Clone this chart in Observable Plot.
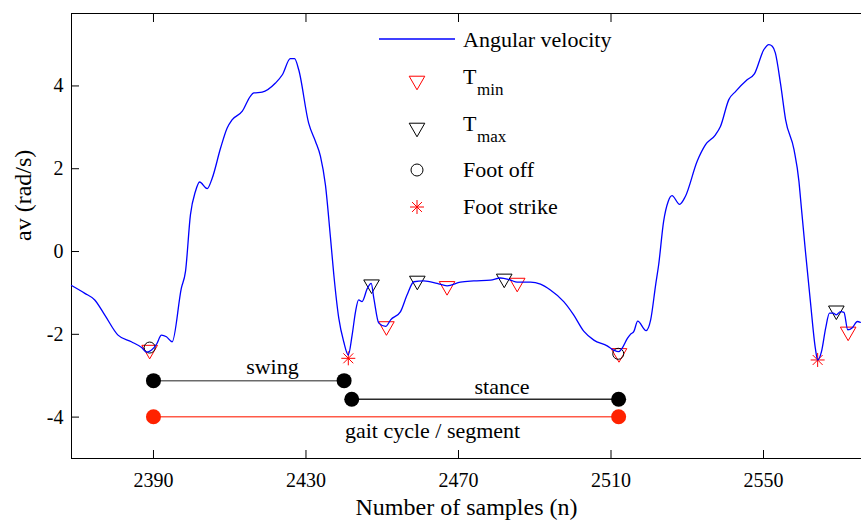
<!DOCTYPE html>
<html><head><meta charset="utf-8">
<script src="https://cdn.jsdelivr.net/npm/d3@7"></script>
<script src="https://cdn.jsdelivr.net/npm/@observablehq/plot@0.6"></script>
<style>
body{margin:0;background:#fff}
#chart{width:861px;height:520px}
#chart svg, #chart svg text{font-family:"Liberation Serif","Times New Roman",Times,"DejaVu Serif","Noto Serif",serif !important}
</style>
</head><body><div id="chart"></div>
<script>
// Angular velocity trace (sample number, rad/s)
const sampleN = [2368.5,2372.0,2374.6,2377.2,2380.7,2384.2,2386.9,2388.2,2389.5,2390.8,2392.1,2393.4,2394.9,2397.3,2398.4,2399.7,2401.0,2402.1,2404.1,2405.4,2407.6,2409.3,2410.6,2413.3,2415.4,2416.3,2418.5,2422.0,2423.8,2425.9,2427.0,2428.1,2430.7,2432.5,2433.8,2435.1,2436.4,2437.3,2438.6,2439.9,2441.1,2442.1,2443.0,2443.8,2444.7,2446.1,2447.1,2447.8,2449.1,2450.9,2452.2,2454.8,2456.5,2458.3,2460.9,2464.4,2467.0,2470.5,2474.0,2478.4,2481.0,2483.6,2485.4,2488.9,2491.5,2494.1,2497.6,2500.2,2502.9,2505.5,2509.0,2510.7,2512.0,2512.9,2514.3,2515.1,2516.0,2517.0,2519.2,2520.4,2521.7,2522.5,2523.8,2525.0,2526.0,2528.0,2529.5,2532.6,2534.8,2537.4,2538.7,2540.9,2542.7,2545.7,2547.6,2550.1,2551.4,2552.3,2553.1,2554.5,2555.8,2558.0,2559.3,2559.7,2561.0,2562.3,2563.6,2564.2,2565.2,2566.3,2567.3,2568.3,2569.1,2570.2,2571.1,2572.1,2573.3,2574.6,2575.4];
const angVel = [-0.82,-1.01,-1.17,-1.53,-2.02,-2.18,-2.32,-2.43,-2.38,-2.24,-2.02,-2.06,-2.18,-0.89,-0.48,0.89,1.45,1.68,1.52,1.77,2.50,2.98,3.18,3.39,3.75,3.83,3.85,4.07,4.27,4.66,4.66,4.39,3.10,2.66,2.30,1.61,0.36,-0.56,-1.61,-2.18,-2.50,-2.02,-1.45,-1.17,-1.21,-0.89,-0.77,-1.13,-1.73,-1.81,-1.65,-1.45,-1.05,-0.73,-0.71,-0.77,-0.83,-0.74,-0.71,-0.69,-0.64,-0.69,-0.74,-0.74,-0.79,-0.93,-1.21,-1.53,-1.93,-2.14,-2.28,-2.38,-2.42,-2.34,-2.10,-2.00,-1.93,-1.68,-1.91,-1.65,-0.81,-0.32,0.73,1.21,1.35,1.14,1.33,2.18,2.58,2.82,3.02,3.67,3.87,4.15,4.29,4.88,5.00,4.96,4.80,4.03,3.18,2.46,1.69,1.29,0.00,-1.21,-2.34,-2.62,-2.42,-1.85,-1.49,-1.49,-1.53,-1.45,-1.47,-1.89,-1.84,-1.69,-1.71];

// Detected events
const tminN = [2389.0,2451.1,2467.0,2485.4,2512.1,2572.2];
const tminV = [-2.43,-1.86,-0.89,-0.81,-2.51,-1.99];
const tmaxN = [2447.2,2459.2,2482.0,2569.1];
const tmaxV = [-0.85,-0.76,-0.71,-1.48];
const footOffN = [2389.0,2511.9];
const footOffV = [-2.32,-2.47];
const footStrikeN = [2441.1,2564.2];
const footStrikeV = [-2.58,-2.62];

// Phase annotations
const segLabel = ["swing","stance","gait cycle / segment"];
const segStart = [2390,2442,2390];
const segEnd = [2440,2512,2512];
const segY = [-3.12,-3.57,-3.99];
const segLabelN = [2421.2,2481.4,2463.2];
const segLabelV = [-2.80,-3.26,-4.33];
const segLine = ["#6a6a6a","#2a2a2a","#ff5a48"];
const segDot = ["#000000","#000000","#ff2200"];

// Axes
const xDomain = [2368.5,2575.7];
const yDomain = [-5,5.75];
const xTicks = [2390,2430,2470,2510,2550];
const yTicks = [-4,-2,0,2,4];

const triDown = {draw(ctx,size){const r=Math.sqrt(size/Math.PI),h=r*0.87;ctx.moveTo(-r,-h);ctx.lineTo(r,-h);ctx.lineTo(0,h);ctx.closePath();}};
const star = {draw(ctx,size){const r=Math.sqrt(size/Math.PI),d=r*0.707;ctx.moveTo(0,-r);ctx.lineTo(0,r);ctx.moveTo(-r,0);ctx.lineTo(r,0);ctx.moveTo(-d,-d);ctx.lineTo(d,d);ctx.moveTo(-d,d);ctx.lineTo(d,-d);}};

const idx = a => a.map((_, i) => i);
const FONT = "Liberation Serif, Times New Roman, Times, DejaVu Serif, serif";
const plain = d => String(d);

const svg = Plot.plot({
  width: 861, height: 520,
  marginLeft: 71, marginRight: 0, marginTop: 13, marginBottom: 62,
  style: {fontFamily: FONT, fontSize: "20px", background: "#fff", color: "#000", overflow: "visible"},
  x: {domain: xDomain},
  y: {domain: yDomain},
  marks: [
    Plot.ruleX([xDomain[0]], {stroke: "#000"}),
    Plot.ruleY(yDomain, {stroke: "#000"}),
    Plot.axisX({ticks: xTicks, tickSize: -8, tickPadding: 22, fontSize: 20, tickFormat: plain, label: null, fontFamily: FONT}),
    Plot.axisX({anchor: "top", ticks: xTicks, tickSize: -8, tickFormat: () => "", label: null}),
    Plot.axisY({ticks: yTicks, tickSize: -8, tickPadding: 16, fontSize: 20, tickFormat: plain, label: null, fontFamily: FONT}),
    Plot.text(["Number of samples (n)"], {frameAnchor: "bottom", dy: 39, lineAnchor: "top", fontSize: 24, fontFamily: FONT}),
    Plot.text(["av (rad/s)"], {frameAnchor: "left", rotate: -90, dx: -58, dy: 5, lineAnchor: "top", fontSize: 24, fontFamily: FONT}),
    // annotations
    Plot.link(idx(segLabel), {x1: i => segStart[i], x2: i => segEnd[i], y1: i => segY[i], y2: i => segY[i], stroke: i => segLine[i], strokeWidth: 1.5}),
    Plot.dot(idx(segLabel), {x: i => segStart[i], y: i => segY[i], r: 7.5, fill: i => segDot[i], stroke: "none"}),
    Plot.dot(idx(segLabel), {x: i => segEnd[i], y: i => segY[i], r: 7.5, fill: i => segDot[i], stroke: "none"}),
    Plot.text(idx(segLabel), {x: i => segLabelN[i], y: i => segLabelV[i], text: i => segLabel[i], fontSize: 22, fill: "#000", fontFamily: FONT}),
    // markers
    Plot.dot(idx(tminN), {x: i => tminN[i], y: i => tminV[i], symbol: triDown, r: 7.8, stroke: "#ff0000", fill: "none", strokeWidth: 1}),
    Plot.dot(idx(tmaxN), {x: i => tmaxN[i], y: i => tmaxV[i], symbol: triDown, r: 7.8, stroke: "#000", fill: "none", strokeWidth: 1}),
    Plot.dot(idx(footOffN), {x: i => footOffN[i], y: i => footOffV[i], r: 5.5, stroke: "#000", fill: "none", strokeWidth: 1}),
    Plot.dot(idx(footStrikeN), {x: i => footStrikeN[i], y: i => footStrikeV[i], symbol: star, r: 7, stroke: "#ff0000", fill: "none", strokeWidth: 1}),
    Plot.line(idx(sampleN), {x: i => sampleN[i], y: i => angVel[i], stroke: "#0000ff", strokeWidth: 1.3, curve: "monotone-x"}),
  ]
});
document.getElementById("chart").appendChild(svg);

// Legend (inside plot, top)
const lg = d3.select(svg).append("g").attr("font-family", FONT).attr("fill", "#000").attr("text-anchor", "start");
const items = [
  {label: "Angular velocity", sub: null, y: 40, kind: "line"},
  {label: "T", sub: "min", y: 83, kind: "tri", color: "#ff0000"},
  {label: "T", sub: "max", y: 130, kind: "tri", color: "#000"},
  {label: "Foot off", sub: null, y: 170, kind: "circle"},
  {label: "Foot strike", sub: null, y: 207, kind: "star"}
];
const mx = 417, tx = 463;
items.forEach(it => {
  if (it.kind === "line") {
    lg.append("line").attr("x1", 379).attr("x2", 455).attr("y1", it.y - 1).attr("y2", it.y - 1).attr("stroke", "#0000ff").attr("stroke-width", 1.3);
  } else if (it.kind === "tri") {
    lg.append("path").attr("transform", `translate(${mx},${it.y})`).attr("d", d3.symbol(triDown, Math.PI * 7.8 * 7.8)()).attr("fill", "none").attr("stroke", it.color);
  } else if (it.kind === "circle") {
    lg.append("circle").attr("cx", mx).attr("cy", it.y).attr("r", 6).attr("fill", "none").attr("stroke", "#000");
  } else {
    lg.append("path").attr("transform", `translate(${mx},${it.y})`).attr("d", d3.symbol(star, Math.PI * 7 * 7)()).attr("fill", "none").attr("stroke", "#ff0000");
  }
  const t = lg.append("text").attr("x", tx).attr("font-size", 22).attr("text-anchor", "start");
  if (it.sub) {
    t.attr("y", it.y + 1).text(it.label);
    lg.append("text").attr("x", tx + 14).attr("y", it.y + 12).attr("font-size", 17).attr("text-anchor", "start").text(it.sub);
  } else {
    t.attr("y", it.y + 7).text(it.label);
  }
});
</script>
</body></html>
